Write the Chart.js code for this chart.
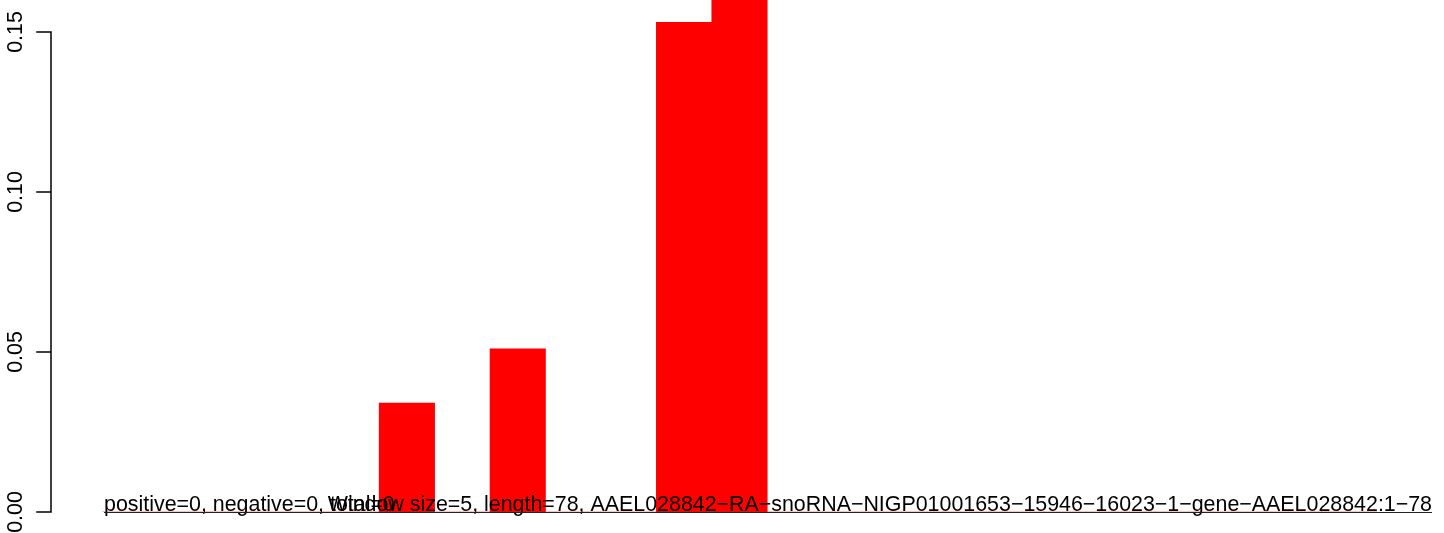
<!DOCTYPE html>
<html>
<head>
<meta charset="utf-8">
<script src="https://cdn.jsdelivr.net/npm/chart.js@4/dist/chart.umd.min.js"></script>
<style>
  html, body { margin: 0; padding: 0; background: #fff; }
  #wrap { width: 1444px; height: 533px; position: relative; }
</style>
</head>
<body>
<div id="wrap"><canvas id="windowBarChart" width="1444" height="533"></canvas></div>
<script>
'use strict';

// Window index (size 5) and the fraction found in each window
const windowLabels = ['1', '2', '3', '4', '5', '6', '7', '8', '9', '10', '11', '12',
  '13', '14', '15', '16', '17', '18', '19', '20', '21', '22', '23'];
const windowValues = [0, 0, 0, 0, 0, 0.034, 0, 0.051, 0, 0, 0.153, 0.17,
  0, 0, 0, 0, 0, 0, 0, 0, 0, 0, 0];
const yTickValues = [0, 0.05, 0.10, 0.15];
const yTickLabels = ['0.00', '0.05', '0.10', '0.15'];
const countsText = 'positive=0, negative=0, total=0';
const titleText = 'Window size=5, length=78, AAEL028842\u2212RA\u2212snoRNA\u2212NIGP01001653\u221215946\u221216023\u22121\u2212gene\u2212AAEL028842:1\u221278';

const fontFamily = '"Liberation Sans", Arial, Helvetica, sans-serif';

// R-style left axis + bottom text, drawn on top of the chart
const rAxisPlugin = {
  id: 'rAxis',
  afterDraw(chart) {
    const ctx = chart.ctx;
    const x = chart.scales.x, y = chart.scales.y;
    const slot = (x.right - x.left) / windowLabels.length;
    // axis sits 4% of the range left of the first bar, like barplot()
    const axisX = Math.round(x.left - 0.04 * windowLabels.length * slot);
    const yTop = y.getPixelForValue(yTickValues[yTickValues.length - 1]);
    const yBot = y.getPixelForValue(yTickValues[0]);

    ctx.save();
    ctx.strokeStyle = '#000';
    ctx.lineWidth = 1.5;
    ctx.lineCap = 'square';
    ctx.beginPath();
    ctx.moveTo(axisX, Math.round(yTop));
    ctx.lineTo(axisX, Math.round(yBot));
    yTickValues.forEach(v => {
      const py = Math.round(y.getPixelForValue(v));
      ctx.moveTo(axisX - 14, py);
      ctx.lineTo(axisX, py);
    });
    ctx.stroke();

    ctx.fillStyle = '#000';
    ctx.font = '21.4px ' + fontFamily;
    ctx.textAlign = 'center';
    ctx.textBaseline = 'alphabetic';
    yTickValues.forEach((v, i) => {
      ctx.save();
      ctx.translate(axisX - 29, y.getPixelForValue(v));
      ctx.rotate(-Math.PI / 2);
      ctx.fillText(yTickLabels[i], 0, 0);
      ctx.restore();
    });

    // bottom texts (they overlap in the original too)
    const baseY = 511;
    ctx.textAlign = 'left';
    ctx.fillText(countsText, 104, baseY);
    ctx.textAlign = 'right';
    ctx.fillText(titleText, 1432, baseY);

    ctx.strokeStyle = '#222';
    ctx.lineWidth = 1;
    ctx.lineCap = 'butt';
    ctx.beginPath();
    ctx.moveTo(104, 512.5);
    ctx.lineTo(1432, 512.5);
    ctx.stroke();
    ctx.restore();
  }
};

const ctx = document.getElementById('windowBarChart').getContext('2d');
new Chart(ctx, {
  type: 'bar',
  data: {
    labels: windowLabels,
    datasets: [{
      data: windowValues,
      backgroundColor: '#ff0000',
      borderWidth: 0,
      barPercentage: 1,
      categoryPercentage: 1
    }]
  },
  options: {
    responsive: false,
    animation: false,
    layout: {
      padding: { left: 102, right: 67, top: 0, bottom: 21 }
    },
    plugins: {
      legend: { display: false },
      tooltip: { enabled: false }
    },
    scales: {
      x: {
        display: false
      },
      y: {
        display: false,
        min: 0,
        max: 0.16
      }
    }
  },
  plugins: [rAxisPlugin]
});
</script>
</body>
</html>
